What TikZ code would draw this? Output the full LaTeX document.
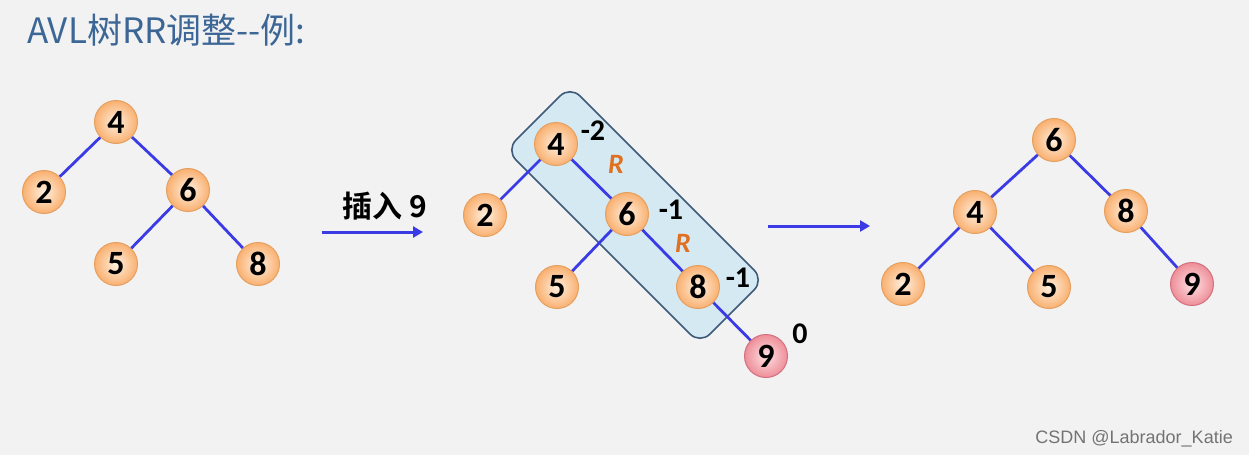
\documentclass[tikz,border=0pt]{standalone}
\usepackage{fontspec}
\setmainfont{Carlito}
\newfontfamily\cjk{Noto Sans CJK SC}[BoldFont={Noto Sans CJK SC Bold}]
\usetikzlibrary{arrows.meta}
\definecolor{bg}{HTML}{F2F2F2}
\definecolor{edgeblue}{HTML}{3B3BE6}
\definecolor{titleblue}{HTML}{3C6696}
\definecolor{nodein}{HTML}{FFF0E0}
\definecolor{nodeout}{HTML}{F9B070}
\definecolor{nodeline}{HTML}{E5A060}
\definecolor{pinkin}{HTML}{FDE2E4}
\definecolor{pinkout}{HTML}{EE8E98}
\definecolor{pinkline}{HTML}{D27080}
\definecolor{boxfill}{HTML}{D5E9F3}
\definecolor{boxline}{HTML}{3D5A78}
\definecolor{rorange}{HTML}{E07020}
\tikzset{
  x=1pt, y=-1pt,
  tn/.style={circle, minimum size=43pt, inner sep=0pt, draw=nodeline, line width=1pt,
    inner color=nodein, outer color=nodeout, font=\fontsize{34}{34}\selectfont\bfseries},
  pn/.style={tn, draw=pinkline, inner color=pinkin, outer color=pinkout},
  ed/.style={draw=edgeblue, line width=2.8pt},
  bf/.style={font=\fontsize{30}{30}\selectfont\bfseries},
  rl/.style={font=\fontsize{28}{28}\selectfont\bfseries\itshape, text=rorange},
  arr/.style={draw=edgeblue, line width=3pt, -{Triangle[length=10pt,width=11pt]}}
}
\begin{document}
\begin{tikzpicture}
\fill[bg] (0,0) rectangle (1249,455);
\useasboundingbox (0,0) rectangle (1249,455);
% title
\node[anchor=base west, inner sep=0pt, text=titleblue, font=\cjk\fontsize{35}{35}\selectfont] (title) at (27,43) {AVL树RR调整--例:};
% tree 1
\node[tn] (a4) at (116,122) {4};
\node[tn] (a2) at (44,192) {2};
\node[tn] (a6) at (188,190) {6};
\node[tn] (a5) at (116,264) {5};
\node[tn] (a8) at (258,264) {8};
\draw[ed] (a4) -- (a2);
\draw[ed] (a4) -- (a6);
\draw[ed] (a6) -- (a5);
\draw[ed] (a6) -- (a8);
% arrow 1
\coordinate (s1) at (322,232);
\coordinate (e1) at (423,232);
\draw[arr] (s1) -- (e1);
\node[font=\cjk\fontsize{30}{30}\selectfont\bfseries, anchor=base] (ins) at (385,217) {插入 9};
% tree 2 box
\draw[fill=boxfill, draw=boxline, line width=1.6pt, rounded corners=14pt]
  (570,86) -- (764,280) -- (700,344) -- (506,150) -- cycle;
\coordinate (b4) at (556,144);
\coordinate (b2) at (485,215);
\coordinate (b6) at (627,214);
\coordinate (b5) at (557,287);
\coordinate (b8) at (698,287);
\coordinate (b9) at (766,356);
\draw[ed] (b4) -- (b2);
\draw[ed] (b4) -- (b6);
\draw[ed] (b6) -- (b5);
\draw[ed] (b6) -- (b8);
\draw[ed] (b8) -- (b9);
\node[tn] (n4) at (b4) {4};
\node[tn] (n2) at (b2) {2};
\node[tn] (n6) at (b6) {6};
\node[tn] (n5) at (b5) {5};
\node[tn] (n8) at (b8) {8};
\node[pn] (n9) at (b9) {9};
\node[bf] (l1) at (593,131) {-2};
\node[rl] (r1) at (616,164) {R};
\node[bf] (l2) at (671,210) {-1};
\node[rl] (r2) at (683,243) {R};
\node[bf] (l3) at (738,278) {-1};
\node[bf] (l4) at (800,334) {0};
% arrow 2
\coordinate (s2) at (768,226);
\coordinate (e2) at (870,226);
\draw[arr] (s2) -- (e2);
% tree 3
\coordinate (c6) at (1054,140);
\coordinate (c4) at (975,212);
\coordinate (c8) at (1126,211);
\coordinate (c2) at (903,284);
\coordinate (c5) at (1049,287);
\coordinate (c9) at (1192,284);
\draw[ed] (c6) -- (c4);
\draw[ed] (c6) -- (c8);
\draw[ed] (c4) -- (c2);
\draw[ed] (c4) -- (c5);
\draw[ed] (c8) -- (c9);
\node[tn] (m6) at (c6) {6};
\node[tn] (m4) at (c4) {4};
\node[tn] (m8) at (c8) {8};
\node[tn] (m2) at (c2) {2};
\node[tn] (m5) at (c5) {5};
\node[pn] (m9) at (c9) {9};
% watermark
\node[anchor=base east, inner sep=0pt, text=black!55, font=\fontspec{Liberation Sans}\fontsize{18}{18}\selectfont] (wm) at (1233,443) {CSDN @Labrador\_Katie};
\end{tikzpicture}
\end{document}
